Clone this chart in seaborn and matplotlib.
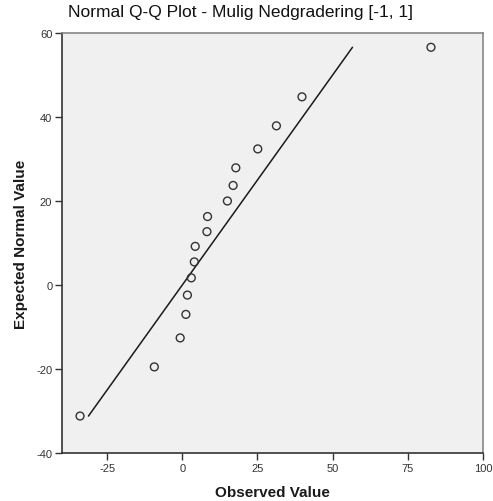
import matplotlib
matplotlib.use("Agg")
import matplotlib.pyplot as plt
import seaborn as sns
import pandas as pd

title = "Normal Q-Q Plot - Mulig Nedgradering [-1, 1]"
x_label = "Observed Value"
y_label = "Expected Normal Value"

observed = [-34.0, -9.3, -0.7, 1.2, 1.7, 3.0, 4.0, 4.3, 8.2, 8.4,
            15.0, 16.9, 17.8, 25.1, 31.3, 39.8, 82.7]
expected = [-31.2, -19.5, -12.6, -7.0, -2.4, 1.7, 5.5, 9.2, 12.7, 16.3,
            20.0, 23.7, 27.9, 32.4, 37.9, 44.8, 56.6]

x_ticks = [-25, 0, 25, 50, 75, 100]
y_ticks = [-40, -20, 0, 20, 40, 60]

df = pd.DataFrame({"observed": observed, "expected": expected})

sns.set_theme(style="white")
plt.rcParams["font.family"] = ["Liberation Sans", "DejaVu Sans"]
plt.rcParams["axes.unicode_minus"] = False

fig = plt.figure(figsize=(4.93, 5.02), dpi=100)
ax = fig.add_axes([62 / 493, 1 - 454 / 502, 421 / 493, 420 / 502])
ax.set_facecolor("#F0F0F0")

lo, hi = min(expected), max(expected)
ref = pd.DataFrame({"x": [lo, hi], "y": [lo, hi]})
sns.lineplot(data=ref, x="x", y="y", ax=ax, color="#1a1a1a", linewidth=1.1)

sns.scatterplot(data=df, x="observed", y="expected", ax=ax,
                marker="o", s=32, facecolor="none", edgecolor="#333333",
                linewidth=1.0, zorder=3)

ax.set_xlim(-40, 100)
ax.set_ylim(-40, 60)
ax.set_xticks(x_ticks)
ax.set_yticks(y_ticks)
ax.tick_params(axis="both", direction="out", length=5, width=1,
               color="#333333", labelsize=8, labelcolor="#333333",
               bottom=True, left=True, pad=2)

for side in ["left", "bottom"]:
    ax.spines[side].set_color("#333333")
    ax.spines[side].set_linewidth(1.2)
for side in ["top", "right"]:
    ax.spines[side].set_color("#888888")
    ax.spines[side].set_linewidth(1.2)

ax.set_xlabel(x_label, fontsize=11, fontweight="bold", color="#1a1a1a")
ax.set_ylabel(y_label, fontsize=11, fontweight="bold", color="#1a1a1a")
ax.xaxis.set_label_coords(0.5, -0.076)
ax.yaxis.set_label_coords(-0.081, 0.5)

fig.text(240 / 493, 1 - 12 / 502, title, ha="center", va="center",
         fontsize=12.5, color="#111111")

fig.savefig("out.png", dpi=100)
